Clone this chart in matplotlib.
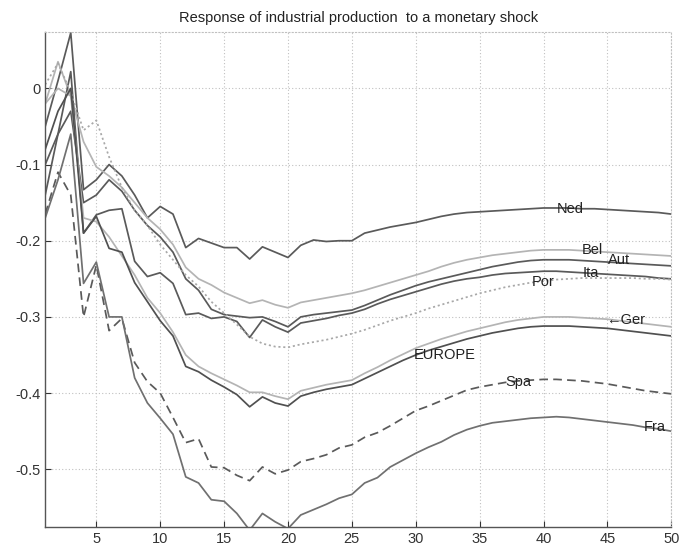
import matplotlib
matplotlib.use("Agg")
import matplotlib.pyplot as plt

plt.rcParams['font.family'] = ['Liberation Sans', 'DejaVu Sans']
plt.rcParams['axes.unicode_minus'] = False

horizon = list(range(1, 51))

ned = [-0.05, 0.01, 0.073, -0.133, -0.12, -0.10, -0.115, -0.14, -0.17, -0.155,
       -0.165, -0.209, -0.197, -0.203, -0.209, -0.209, -0.224, -0.208, -0.215, -0.222,
       -0.206, -0.199, -0.201, -0.200, -0.200, -0.190, -0.186, -0.182, -0.179, -0.176,
       -0.172, -0.168, -0.165, -0.163, -0.162, -0.161, -0.160, -0.159, -0.158, -0.157,
       -0.157, -0.157, -0.158, -0.158, -0.159, -0.160, -0.161, -0.162, -0.163, -0.165]
bel = [-0.02, 0.035, -0.01, -0.07, -0.103, -0.115, -0.13, -0.15, -0.17, -0.185,
       -0.205, -0.235, -0.25, -0.258, -0.268, -0.275, -0.282, -0.278, -0.284, -0.288,
       -0.281, -0.278, -0.275, -0.272, -0.269, -0.265, -0.26, -0.255, -0.25, -0.245,
       -0.24, -0.234, -0.229, -0.225, -0.222, -0.219, -0.217, -0.215, -0.213, -0.212,
       -0.212, -0.212, -0.213, -0.214, -0.215, -0.216, -0.217, -0.218, -0.219, -0.22]
aut = [-0.10, -0.06, -0.03, -0.15, -0.14, -0.12, -0.135, -0.16, -0.18, -0.195,
       -0.215, -0.25, -0.265, -0.29, -0.297, -0.299, -0.301, -0.300, -0.306, -0.313,
       -0.30, -0.297, -0.295, -0.293, -0.291, -0.285, -0.278, -0.271, -0.265, -0.259,
       -0.254, -0.25, -0.246, -0.242, -0.238, -0.234, -0.231, -0.228, -0.226, -0.225,
       -0.225, -0.225, -0.226, -0.227, -0.228, -0.229, -0.23, -0.231, -0.232, -0.233]
ita = [-0.14, -0.06, 0.022, -0.19, -0.166, -0.16, -0.158, -0.227, -0.247, -0.242,
       -0.256, -0.297, -0.295, -0.302, -0.30, -0.306, -0.327, -0.304, -0.313, -0.32,
       -0.308, -0.305, -0.302, -0.298, -0.295, -0.29, -0.283, -0.277, -0.272, -0.267,
       -0.262, -0.257, -0.253, -0.25, -0.248, -0.245, -0.243, -0.242, -0.241, -0.240,
       -0.240, -0.241, -0.242, -0.243, -0.244, -0.245, -0.246, -0.247, -0.249, -0.25]
por = [0.005, 0.033, -0.005, -0.055, -0.042, -0.09, -0.13, -0.16, -0.18, -0.205,
       -0.225, -0.245, -0.26, -0.28, -0.295, -0.31, -0.326, -0.335, -0.339, -0.34,
       -0.336, -0.333, -0.33, -0.326, -0.322, -0.317, -0.311, -0.305, -0.30, -0.295,
       -0.289, -0.284, -0.279, -0.274, -0.269, -0.265, -0.261, -0.258, -0.255, -0.253,
       -0.251, -0.25, -0.249, -0.249, -0.249, -0.249, -0.249, -0.25, -0.25, -0.251]
ger = [-0.02, 0.0, -0.01, -0.17, -0.175, -0.195, -0.22, -0.245, -0.275, -0.295,
       -0.32, -0.35, -0.365, -0.374, -0.382, -0.39, -0.399, -0.399, -0.404, -0.408,
       -0.397, -0.393, -0.389, -0.386, -0.383, -0.374, -0.366, -0.357, -0.349, -0.341,
       -0.335, -0.329, -0.324, -0.319, -0.315, -0.311, -0.307, -0.304, -0.302, -0.300,
       -0.300, -0.300, -0.301, -0.302, -0.303, -0.305, -0.307, -0.309, -0.311, -0.313]
europe = [-0.08, -0.03, 0.0, -0.19, -0.168, -0.21, -0.215, -0.255, -0.28, -0.305,
          -0.325, -0.365, -0.372, -0.383, -0.392, -0.402, -0.418, -0.405, -0.413, -0.417,
          -0.404, -0.399, -0.395, -0.392, -0.389, -0.381, -0.373, -0.365, -0.357, -0.350,
          -0.344, -0.339, -0.334, -0.329, -0.325, -0.321, -0.318, -0.315, -0.313, -0.312,
          -0.312, -0.312, -0.313, -0.314, -0.315, -0.317, -0.319, -0.321, -0.323, -0.325]
spa = [-0.165, -0.11, -0.14, -0.30, -0.232, -0.318, -0.302, -0.36, -0.385, -0.40,
       -0.432, -0.465, -0.46, -0.497, -0.498, -0.508, -0.515, -0.497, -0.506, -0.501,
       -0.49, -0.486, -0.481, -0.472, -0.468, -0.458, -0.452, -0.443, -0.433, -0.423,
       -0.417, -0.41, -0.403, -0.396, -0.392, -0.389, -0.386, -0.384, -0.383, -0.382,
       -0.382, -0.383, -0.384, -0.386, -0.388, -0.391, -0.394, -0.397, -0.399, -0.401]
fra = [-0.17, -0.12, -0.06, -0.256, -0.228, -0.30, -0.30, -0.38, -0.413, -0.433,
       -0.454, -0.51, -0.518, -0.54, -0.542, -0.558, -0.58, -0.558, -0.569, -0.578,
       -0.56, -0.553, -0.546, -0.538, -0.533, -0.518, -0.511, -0.497, -0.488, -0.479,
       -0.471, -0.464, -0.455, -0.448, -0.443, -0.439, -0.437, -0.435, -0.433, -0.432,
       -0.431, -0.432, -0.434, -0.436, -0.438, -0.44, -0.442, -0.445, -0.447, -0.45]

series = [
    (ned, '#5a5a5a', '-'),
    (bel, '#b4b4b4', '-'),
    (aut, '#5a5a5a', '-'),
    (ita, '#5a5a5a', '-'),
    (por, '#a8a8a8', (0, (1.2, 1.6))),
    (ger, '#b4b4b4', '-'),
    (europe, '#505050', '-'),
    (spa, '#5a5a5a', (0, (5, 3))),
    (fra, '#707070', '-'),
]

labels = ['Ned', 'Bel', 'Aut', 'Ita', 'Por', '\u2190Ger', 'EUROPE', 'Spa', 'Fra']
label_x = [42.1, 43.8, 45.9, 43.7, 40.0, 46.4, 32.3, 38.0, 48.7]
label_y = [-0.158, -0.212, -0.225, -0.242, -0.254, -0.304, -0.350, -0.385, -0.445]

x_ticks = [5, 10, 15, 20, 25, 30, 35, 40, 45, 50]
y_ticks = [0, -0.1, -0.2, -0.3, -0.4, -0.5]
y_tick_labels = ['0', '-0.1', '-0.2', '-0.3', '-0.4', '-0.5']

fig = plt.figure(figsize=(6.85, 5.52), dpi=100)
ax = fig.add_axes([0.066, 0.045, 0.914, 0.897])

for vals, col, ls in series:
    ax.plot(horizon, vals, color=col, linestyle=ls, linewidth=1.25)

for t, x, y in zip(labels, label_x, label_y):
    ax.text(x, y, t, fontsize=10.5, ha='center', va='center', color='#222222')

ax.set_xlim(1, 50)
ax.set_ylim(-0.576, 0.074)
ax.set_xticks(x_ticks)
ax.set_yticks(y_ticks)
ax.set_yticklabels(y_tick_labels)
ax.tick_params(direction='in', length=4, labelsize=10.5, colors='#333333')
ax.grid(True, color='#c0c0c0', linestyle=(0, (1, 2)), linewidth=0.8)
for s in ['top', 'right']:
    ax.spines[s].set_color('#c0c0c0')
    ax.spines[s].set_linestyle((0, (1, 2)))
    ax.spines[s].set_linewidth(0.8)
for s in ['left', 'bottom']:
    ax.spines[s].set_color('#555555')
    ax.spines[s].set_linewidth(1.0)

ax.set_title('Response of industrial production  to a monetary shock', fontsize=10.5,
             color='#222222', pad=7)

fig.savefig('out.png', dpi=100)
